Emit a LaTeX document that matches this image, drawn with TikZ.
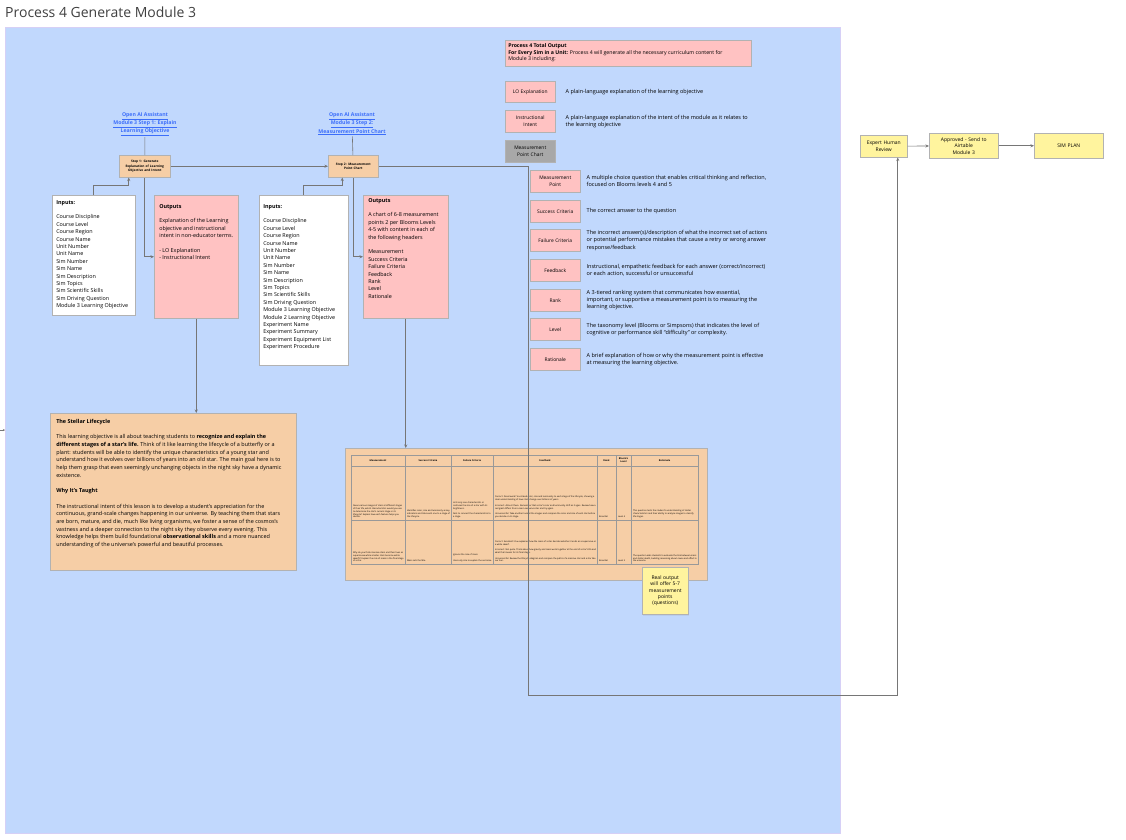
\documentclass[tikz,border=0pt]{standalone}
\usepackage{fontspec}
\setmainfont{Open Sans}
\usetikzlibrary{positioning,arrows.meta,shadows}

\definecolor{canvasblue}{RGB}{193,216,253}
\definecolor{canvasedge}{RGB}{214,208,246}
\definecolor{notepink}{RGB}{255,194,194}
\definecolor{notepeach}{RGB}{246,206,166}
\definecolor{noteyellow}{RGB}{255,244,158}
\definecolor{notegray}{RGB}{168,168,168}
\definecolor{linkblue}{RGB}{60,110,250}
\definecolor{wiregray}{RGB}{118,118,118}

\newcommand{\cardbody}[3]{\parbox[t][#2][t]{#1}{\raggedright\hyphenpenalty=10000 #3}}
\newcommand{\ul}[1]{\underline{#1}}

\begin{document}
\begin{tikzpicture}[
  x=1pt, y=-1pt,
  card/.style={draw=black!30, line width=0.5pt, anchor=north west, inner sep=4pt, align=left, font=\fontsize{5.4}{7.4}\selectfont},
  pinkcard/.style={card, fill=notepink},
  peachcard/.style={card, fill=notepeach},
  whitecard/.style={card, fill=white},
  yellowcard/.style={card, fill=noteyellow, align=center, inner sep=1pt, font=\fontsize{5}{6.4}\selectfont},
  tag/.style={card, fill=notepink, minimum width=50, minimum height=22, text width=46, inner sep=2pt, align=center, font=\fontsize{4.9}{6.2}\selectfont},
  stepcard/.style={card, fill=notepeach, minimum height=22, inner sep=1pt, align=center, font=\fontsize{3.2}{4.5}\selectfont\bfseries},
  note/.style={anchor=west, text width=184, align=flush left, inner sep=0pt, font=\fontsize{5.5}{7.3}\selectfont},
  link/.style={text=linkblue, align=center, inner sep=1pt, font=\fontsize{5.2}{7}\selectfont\bfseries},
  wire/.style={draw=wiregray, line width=0.6pt},
  feed/.style={wire, -{Stealth[length=3.5pt,width=3pt]}},
  gridline/.style={draw=black!40, line width=0.7pt},
  cell/.style={anchor=south west, inner sep=0.8pt, align=flush left, font=\fontsize{2.2}{2.8}\selectfont},
  head/.style={anchor=center, inner sep=0pt, align=center, font=\fontsize{2.4}{2.9}\selectfont\bfseries}
]

\path[use as bounding box] (0,0) rectangle (1126,839);
\fill[white] (0,0) rectangle (1126,839);

% title and canvas
\node[anchor=west, inner sep=0pt, text=black!75, font=\fontsize{14}{17}\selectfont] (title) at (5,12) {Process 4 Generate Module 3};
\draw[fill=canvasblue, draw=canvasedge, line width=1pt] (5,27) rectangle (840,833);

% step 1
\node[link] (link1) at (145,124) {\ul{Open AI Assistant}\\\ul{Module 3 Step 1: Explain}\\\ul{Learning Objective}};
\node[stepcard, minimum width=51, text width=49] (s1) at (119,155) {Step 1: Generate\\Explanation of Learning\\Objective and Intent};

\node[whitecard, inner xsep=4pt, inner ysep=5pt] (in1) at (52,195) {\cardbody{75pt}{110pt}{\textbf{Inputs:}\\[7.4pt]
Course Discipline\\Course Level\\Course Region\\Course Name\\Unit Number\\Unit Name\\Sim Number\\Sim Name\\Sim Description\\Sim Topics\\Sim Scientific Skills\\Sim Driving Question\\Module 3 Learning Objective}};

\node[pinkcard, inner xsep=5pt, inner ysep=9pt] (out1) at (154,195) {\cardbody{74pt}{105pt}{\textbf{Outputs}\\[7.4pt]
Explanation of the Learning\\objective and instructional\\intent in non-educator terms.\\[7.4pt]
- LO Explanation\\- Instructional Intent}};

% step 2
\node[link] (link2) at (352,124) {\ul{Open AI Assistant}\\\ul{Module 3 Step 2:}\\\ul{Measurement Point Chart}};
\node[stepcard, minimum width=50, text width=48] (s2) at (328,155) {Step 2: Measurement\\Point Chart};

\node[whitecard, inner xsep=4pt, inner ysep=9pt] (in2) at (259,195) {\cardbody{81pt}{152pt}{\textbf{Inputs:}\\[7.4pt]
Course Discipline\\Course Level\\Course Region\\Course Name\\Unit Number\\Unit Name\\Sim Number\\Sim Name\\Sim Description\\Sim Topics\\Sim Scientific Skills\\Sim Driving Question\\Module 3 Learning Objective\\Module 2 Learning Objective\\Experiment Name\\Experiment Summary\\Experiment Equipment List\\Experiment Procedure}};

\node[pinkcard, inner xsep=5pt, inner ysep=3pt] (out2) at (363,195) {\cardbody{75pt}{117pt}{\textbf{Outputs}\\[7.4pt]
A chart of 6-8 measurement\\points 2 per Blooms Levels\\4-5 with content in each of\\the following headers\\[7.4pt]
Measurement\\Success Criteria\\Failure Criteria\\Feedback\\Rank\\Level\\Rationale}};

% generated explanation
\node[peachcard, inner xsep=6pt, inner ysep=6pt, font=\fontsize{5.45}{7.7}\selectfont] (life) at (50,413) {\cardbody{234pt}{145pt}{\parbox[t]{228pt}{\raggedright\hyphenpenalty=10000 \textbf{The Stellar Lifecycle}\par\vspace{7.7pt}
This learning objective is all about teaching students to \textbf{recognize and explain the different stages of a star's life.} Think of it like learning the lifecycle of a butterfly or a plant: students will be able to identify the unique characteristics of a young star and understand how it evolves over billions of years into an old star. The main goal here is to help them grasp that even seemingly unchanging objects in the night sky have a dynamic existence.\par\vspace{7.7pt}
\textbf{Why It's Taught}\par\vspace{7.7pt}
The instructional intent of this lesson is to develop a student's appreciation for the continuous, grand-scale changes happening in our universe. By teaching them that stars are born, mature, and die, much like living organisms, we foster a sense of the cosmos's vastness and a deeper connection to the night sky they observe every evening. This knowledge helps them build foundational \textbf{observational skills} and a more nuanced understanding of the universe's powerful and beautiful processes.}}};

% generated chart
\node[peachcard, minimum width=362, minimum height=132, inner sep=0pt] (chart) at (345,448) {};
\draw[gridline] (351,455) rectangle (698,564);
\foreach \x in {405,451,493,597,616,631} \draw[gridline] (\x,455) -- (\x,564);
\foreach \y in {466,520} \draw[gridline] (351,\y) -- (698,\y);

\node[head] (h1) at (378,460.5) {Measurement};
\node[head] (h2) at (428,460.5) {Success Criteria};
\node[head] (h3) at (472,460.5) {Failure Criteria};
\node[head] (h4) at (545,460.5) {Feedback};
\node[head] (h5) at (606.5,460.5) {Rank};
\node[head] (h6) at (623.5,460.5) {Bloom's\\Level};
\node[head] (h7) at (664.5,460.5) {Rationale};

\node[cell, text width=51] (c11) at (352,519) {Given various images of stars at different stages of their life, which characteristics would you use to determine the star's current stage in its lifecycle? Explain how each feature helps you decide.};
\node[cell, text width=43] (c12) at (406,519) {Identifies color, size and luminosity as key indicators and links each one to a stage of the lifecycle.};
\node[cell, text width=39] (c13) at (452,519) {Lists only one characteristic or confuses the size of a star with its brightness.\\[2.8pt] Fails to connect the characteristics to a stage.};
\node[cell, text width=101] (c14) at (494,519) {Correct: Great work! You linked color, size and luminosity to each stage of the lifecycle, showing a clear understanding of how stars change over billions of years.\\[2.8pt] Incorrect: Almost there. Remember that a star's color and luminosity shift as it ages. Review how a red giant differs from a main sequence star and try again.\\[2.8pt] Unsuccessful: Take another look at the images and compare the color and size of each star before you decide on its stage.};
\node[cell, text width=17] (c15) at (598,519) {Essential};
\node[cell, text width=13] (c16) at (617,519) {Level 4};
\node[cell, text width=64] (c17) at (632,519) {This question tests the student's understanding of stellar characteristics and their ability to analyze images to classify life stages.};

\node[cell, text width=51] (c21) at (352,563) {Why do you think massive stars end their lives as supernovae while smaller stars become white dwarfs? Explain the role of mass in the final stage of a star.};
\node[cell, text width=43] (c22) at (406,563) {Mass sets the fate.};
\node[cell, text width=39] (c23) at (452,563) {Ignores the role of mass.\\[2.8pt] Uses only size to explain the outcome.};
\node[cell, text width=101] (c24) at (494,563) {Correct: Excellent! You explained how the mass of a star decides whether it ends as a supernova or a white dwarf.\\[2.8pt] Incorrect: Not quite. Think about how gravity and mass work together at the end of a star's life and what that means for its final stage.\\[2.8pt] Unsuccessful: Review the lifecycle diagram and compare the paths of a massive star and a star like our Sun.};
\node[cell, text width=17] (c25) at (598,563) {Essential};
\node[cell, text width=13] (c26) at (617,563) {Level 5};
\node[cell, text width=64] (c27) at (632,563) {The question asks students to evaluate the link between mass and stellar death, building reasoning about cause and effect in the universe.};

\node[yellowcard, minimum width=46, minimum height=47, text width=44, drop shadow={opacity=0.12, shadow xshift=1pt, shadow yshift=-1.5pt}] (realnote) at (642,567) {Real output\\will offer 5-7\\measurement\\points\\(questions)};

% process output legend
\node[pinkcard, inner xsep=3pt, inner ysep=3pt, font=\fontsize{5.2}{6.8}\selectfont] (total) at (505,40) {\cardbody{240pt}{20pt}{\textbf{Process 4 Total Output}\\
\textbf{For Every Sim in a Unit:} Process 4 will generate all the necessary curriculum content for\\Module 3 including:}};

\node[tag, minimum height=21] (lo) at (505,81) {LO Explanation};
\node[note, right=10pt of lo] (lo-text) {A plain-language explanation of the learning objective};
\node[tag] (ii) at (505,110) {Instructional\\Intent};
\node[note, right=10pt of ii] (ii-text) {A plain-language explanation of the intent of the module as it relates to\\the learning objective};
\node[tag, fill=notegray] (mpc) at (505,140) {Measurement\\Point Chart};

\foreach \nm/\ty/\lbl/\txt in {
  mpt/170/{Measurement\\Point}/{A multiple choice question that enables critical thinking and reflection,\\focused on Blooms levels 4 and 5},
  succ/200/{Success Criteria}/{The correct answer to the question},
  fail/229/{Failure Criteria}/{The incorrect answer(s)/description of what the incorrect set of actions\\or potential performance mistakes that cause a retry or wrong answer\\response/feedback},
  fdbk/259/{Feedback}/{Instructional, empathetic feedback for each answer (correct/incorrect)\\or each action, successful or unsuccessful},
  rank/289/{Rank}/{A 3-tiered ranking system that communicates how essential,\\important, or supportive a measurement point is to measuring the\\learning objective.},
  lvl/318/{Level}/{The taxonomy level (Blooms or Simpsons) that indicates the level of\\cognitive or performance skill ``difficulty'' or complexity.},
  rat/348/{Rationale}/{A brief explanation of how or why the measurement point is effective\\at measuring the learning objective.}%
}{
  \node[tag] (\nm) at (530,\ty) {\lbl};
  \node[note, right=6pt of \nm] (\nm-text) {\txt};
}

% review chain
\node[yellowcard, minimum width=47, minimum height=22, text width=45] (rev) at (860,135) {Expert Human\\Review};
\node[yellowcard, minimum width=69, minimum height=25, text width=66] (appr) at (929,133) {Approved - Send to\\Airtable\\Module 3};
\node[yellowcard, minimum width=69, minimum height=25, text width=66] (simplan) at (1034,133) {SIM PLAN};

% connectors
\draw[wire] (link1) -- (s1);
\draw[wire] (link2) -- (s2);
\draw[feed] (s1) -- (s2);
\draw[feed] (in1.north) |- ++(0,-10) -| ([xshift=-16pt]s1.south);
\draw[feed] (s1.south) |- (out1.west);
\draw[feed] (in2.north) |- ++(0,-10) -| ([xshift=-11pt]s2.south);
\draw[feed] (s2.south) |- (out2.west);
\draw[feed] (out1.south) -- (out1.south |- life.north);
\draw[feed] (out2.south) -- (out2.south |- chart.north);

\coordinate (loopturn) at (528,695);
\draw[feed] (s2.east) -| (loopturn) -| ([xshift=14pt]rev.south);
\draw[feed] (rev) -- (appr);
\draw[feed] (appr) -- (simplan);

\coordinate (edgein) at (0,430);
\coordinate (edgeout) at (5,430);
\draw[wire, -{Stealth[length=2pt,width=2pt]}] (edgein) -- (edgeout);

\end{tikzpicture}
\end{document}
